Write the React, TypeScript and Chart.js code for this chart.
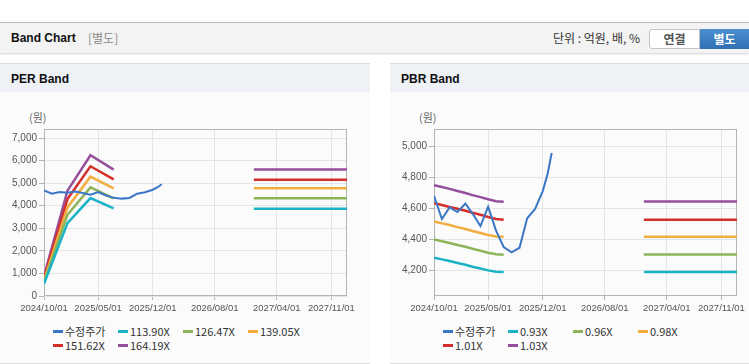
import React, { useEffect, useRef } from "react";
import { Chart, registerables } from "chart.js";

Chart.register(...registerables);

// ---------- data ----------
const X_MIN = "2024-10-01";
const X_MAX = "2028-01-01";
const X_TICK_DATES = ["2024-10-01", "2025-05-01", "2025-12-01", "2026-08-01", "2027-04-01", "2027-11-01"];
const X_TICK_LABELS = ["2024/10/01", "2025/05/01", "2025/12/01", "2026/08/01", "2027/04/01", "2027/11/01"];

const PRICE_DATES = [
  "2024-10-01", "2024-11-01", "2024-12-01", "2025-01-01", "2025-02-01", "2025-03-01",
  "2025-04-01", "2025-05-01", "2025-06-01", "2025-07-01", "2025-08-01", "2025-09-01",
  "2025-10-01", "2025-11-01", "2025-12-01", "2025-12-20", "2026-01-05",
];
const PRICE_VALUES = [
  4680, 4530, 4605, 4575, 4630, 4565,
  4485, 4610, 4455, 4350, 4315, 4345,
  4535, 4595, 4710, 4820, 4955,
];

const FUTURE_DATES = ["2027-01-01", "2028-01-01"];

// PER band (quarterly history)
const PER_BAND_DATES = ["2024-10-01", "2025-01-01", "2025-04-01", "2025-07-01"];
const PER_113_90 = [540, 3230, 4341, 3881];
const PER_126_47 = [620, 3600, 4815, 4326];
const PER_139_05 = [700, 3926, 5289, 4770];
const PER_151_62 = [790, 4296, 5748, 5165];
const PER_164_19 = [880, 4667, 6237, 5600];
const PER_FUTURE = [3867, 4326, 4770, 5156, 5600];
const PER_LABELS = ["수정주가", "113.90X", "126.47X", "139.05X", "151.62X", "164.19X"];
const PER_Y_TICKS = [0, 1000, 2000, 3000, 4000, 5000, 6000, 7000];

// PBR band (monthly history)
const PBR_BAND_DATES = [
  "2024-10-01", "2024-11-01", "2024-12-01", "2025-01-01", "2025-02-01",
  "2025-03-01", "2025-04-01", "2025-05-01", "2025-06-01", "2025-07-01",
];
const PBR_0_93 = [4281, 4270, 4259, 4247, 4235, 4223, 4211, 4199, 4191, 4189];
const PBR_0_96 = [4398, 4387, 4375, 4363, 4351, 4338, 4326, 4313, 4303, 4300];
const PBR_0_98 = [4514, 4502, 4491, 4478, 4466, 4453, 4440, 4427, 4418, 4415];
const PBR_1_01 = [4632, 4620, 4608, 4596, 4583, 4570, 4557, 4543, 4530, 4525];
const PBR_1_03 = [4748, 4736, 4724, 4711, 4698, 4684, 4671, 4657, 4645, 4642];
const PBR_FUTURE = [4189, 4301, 4415, 4526, 4643];
const PBR_LABELS = ["수정주가", "0.93X", "0.96X", "0.98X", "1.01X", "1.03X"];
const PBR_Y_TICKS = [4200, 4400, 4600, 4800, 5000];

const COLORS = ["#3b77c6", "#1ab2c5", "#8db45a", "#f2ad40", "#d3302b", "#954f9c"];

// ---------- helpers ----------
const toDay = (d: string) => {
  const [y, m, dd] = d.split("-").map(Number);
  return Date.UTC(y, m - 1, dd) / 86400000;
};

const TICK_FONT = '"Liberation Sans Narrow", "Liberation Sans", Arial, sans-serif';
const UI_FONT = '"Liberation Sans", Arial, "Noto Sans CJK KR", sans-serif';
const KR_FONT = '"Noto Sans CJK KR", "Liberation Sans", sans-serif';

const boxPlugin = {
  id: "plotBox",
  beforeDatasetsDraw(chart: any) {
    const { ctx, chartArea } = chart;
    const l = Math.round(chartArea.left) + 0.5;
    const t = Math.round(chartArea.top) + 0.5;
    const r = Math.round(chartArea.right) - 0.5;
    const b = Math.round(chartArea.bottom) - 0.5;
    ctx.save();
    ctx.strokeStyle = "#b4b4b4";
    ctx.lineWidth = 1;
    ctx.strokeRect(l, t, r - l, b - t);
    ctx.restore();
  },
};

type BandProps = {
  bandDates: string[];
  bands: number[][];
  future: number[];
  yMin: number;
  yMax: number;
  yTicks: number[];
  width: number;
  height: number;
  padRight: number;
};

function BandCanvas(p: BandProps) {
  const ref = useRef<HTMLCanvasElement | null>(null);
  useEffect(() => {
    if (!ref.current) return;
    const price = PRICE_DATES.map((d, i) => ({ x: toDay(d), y: PRICE_VALUES[i] }));
    const datasets: any[] = [
      {
        data: price,
        borderColor: COLORS[0],
        borderWidth: 2,
        pointRadius: 0,
        tension: 0,
      },
    ];
    p.bands.forEach((vals, k) => {
      const pts: any[] = p.bandDates.map((d, i) => ({ x: toDay(d), y: vals[i] }));
      pts.push({ x: toDay("2026-06-01"), y: null });
      FUTURE_DATES.forEach((d) => pts.push({ x: toDay(d), y: p.future[k] }));
      datasets.push({
        data: pts,
        borderColor: COLORS[k + 1],
        borderWidth: 2.5,
        pointRadius: 0,
        tension: 0,
        spanGaps: false,
      });
    });
    const chart = new Chart(ref.current, {
      type: "line",
      data: { datasets },
      plugins: [boxPlugin],
      options: {
        animation: false,
        responsive: false,
        maintainAspectRatio: false,
        devicePixelRatio: 1,
        layout: { padding: { top: 28, right: p.padRight, bottom: 0, left: 0 }, autoPadding: false },
        plugins: { legend: { display: false }, tooltip: { enabled: false } },
        events: [],
        scales: {
          x: {
            type: "linear",
            min: toDay(X_MIN),
            max: toDay(X_MAX),
            afterBuildTicks: (s: any) => {
              s.ticks = X_TICK_DATES.map((d) => ({ value: toDay(d) }));
            },
            afterFit: (s: any) => {
              s.height = 25;
            },
            grid: { color: "#e5e5e5", tickColor: "#b4b4b4", tickLength: 4, drawTicks: true },
            border: { display: false },
            ticks: {
              autoSkip: false,
              maxRotation: 0,
              minRotation: 0,
              padding: 3,
              color: "#555",
              font: { family: TICK_FONT, size: 9.5 },
              callback: (_v: any, i: number) => X_TICK_LABELS[i],
            },
          },
          y: {
            type: "linear",
            min: p.yMin,
            max: p.yMax,
            afterBuildTicks: (s: any) => {
              s.ticks = p.yTicks.map((v) => ({ value: v }));
            },
            afterFit: (s: any) => {
              s.width = 44;
            },
            grid: { color: "#e5e5e5", tickColor: "#b4b4b4", tickLength: 5, drawTicks: true },
            border: { display: false },
            ticks: {
              padding: 2,
              color: "#555",
              font: { family: TICK_FONT, size: 10 },
              callback: (v: any) => Number(v).toLocaleString("en-US"),
            },
          },
        },
      } as any,
    });
    return () => chart.destroy();
  }, []);
  return (
    <canvas
      ref={ref}
      width={p.width}
      height={p.height}
      style={{ position: "absolute", left: 0, top: 37, width: p.width, height: p.height }}
    />
  );
}

function Legend({ labels }: { labels: string[] }) {
  return (
    <div
      style={{
        position: "absolute",
        left: 53,
        top: 261,
        width: 270,
        display: "flex",
        flexWrap: "wrap",
        fontFamily: KR_FONT,
        fontSize: 11,
        color: "#333",
        lineHeight: "13.5px",
      }}
    >
      {labels.map((lab, i) => (
        <div key={lab} style={{ width: 65, height: 13.5, display: "flex", alignItems: "center", whiteSpace: "nowrap" }}>
          <span style={{ display: "inline-block", width: 10, height: 3, background: COLORS[i], marginRight: 2 }} />
          <span>{lab}</span>
        </div>
      ))}
    </div>
  );
}

function Panel(props: { left: number; width: number; title: string; children: any }) {
  return (
    <div
      style={{
        position: "absolute",
        left: props.left,
        top: 63,
        width: props.width,
        height: 299,
        background: "#fbfbfb",
        borderTop: "1px solid #dcdcdc",
        borderBottom: "1px solid #dcdcdc",
      }}
    >
      <div
        style={{
          position: "absolute",
          left: 0,
          top: 0,
          width: props.width,
          height: 28,
          background: "#eef1f6",
        }}
      >
        <span
          style={{
            position: "absolute",
            left: 11,
            top: 7,
            fontFamily: UI_FONT,
            fontWeight: "bold",
            fontSize: 12,
            color: "#111",
            lineHeight: "16px",
          }}
        >
          {props.title}
        </span>
      </div>
      <span
        style={{
          position: "absolute",
          left: 29,
          top: 46,
          fontFamily: KR_FONT,
          fontSize: 11,
          color: "#666",
          lineHeight: "14px",
        }}
      >
        (원)
      </span>
      {props.children}
    </div>
  );
}

export default function App() {
  useEffect(() => {
    document.body.style.margin = "0";
    document.body.style.background = "#fff";
  }, []);
  return (
    <div style={{ position: "relative", width: 749, height: 364, background: "#fff", overflow: "hidden" }}>
      {/* header bar */}
      <div
        style={{
          position: "absolute",
          left: 0,
          top: 22,
          width: 749,
          height: 30,
          background: "#f3f3f3",
          borderTop: "1px solid #bdbdbd",
          boxShadow: "0 1px 2px rgba(0,0,0,0.18)",
        }}
      >
        <span
          style={{
            position: "absolute",
            left: 11,
            top: 7,
            fontFamily: UI_FONT,
            fontWeight: "bold",
            fontSize: 12,
            color: "#111",
            lineHeight: "16px",
          }}
        >
          Band Chart
        </span>
        <span
          style={{
            position: "absolute",
            left: 88,
            top: 7,
            fontFamily: KR_FONT,
            fontSize: 12,
            color: "#8a8a8a",
            lineHeight: "16px",
          }}
        >
          [별도]
        </span>
        <span
          style={{
            position: "absolute",
            left: 553,
            top: 7,
            fontFamily: KR_FONT,
            fontSize: 12,
            color: "#333",
            lineHeight: "16px",
            whiteSpace: "nowrap",
          }}
        >
          단위 : 억원, 배, %
        </span>
        <div
          style={{
            position: "absolute",
            left: 649,
            top: 6,
            width: 49,
            height: 18,
            background: "#fff",
            border: "1px solid #c4c4c4",
            borderRadius: "3px 0 0 3px",
            fontFamily: KR_FONT,
            fontSize: 12,
            fontWeight: "bold",
            color: "#555",
            textAlign: "center",
            lineHeight: "18px",
          }}
        >
          연결
        </div>
        <div
          style={{
            position: "absolute",
            left: 700,
            top: 6,
            width: 49,
            height: 20,
            background: "linear-gradient(#4a8fd0, #2f6fb3)",
            fontFamily: KR_FONT,
            fontSize: 12,
            fontWeight: "bold",
            color: "#fff",
            textAlign: "center",
            lineHeight: "20px",
          }}
        >
          별도
        </div>
      </div>

      <Panel left={0} width={370} title="PER Band">
        <BandCanvas
          bandDates={PER_BAND_DATES}
          bands={[PER_113_90, PER_126_47, PER_139_05, PER_151_62, PER_164_19]}
          future={PER_FUTURE}
          yMin={0}
          yMax={7400}
          yTicks={PER_Y_TICKS}
          width={370}
          height={220}
          padRight={23}
        />
        <Legend labels={PER_LABELS} />
      </Panel>

      <Panel left={390} width={359} title="PBR Band">
        <BandCanvas
          bandDates={PBR_BAND_DATES}
          bands={[PBR_0_93, PBR_0_96, PBR_0_98, PBR_1_01, PBR_1_03]}
          future={PBR_FUTURE}
          yMin={4034}
          yMax={5110}
          yTicks={PBR_Y_TICKS}
          width={359}
          height={220}
          padRight={12}
        />
        <Legend labels={PBR_LABELS} />
      </Panel>
    </div>
  );
}
